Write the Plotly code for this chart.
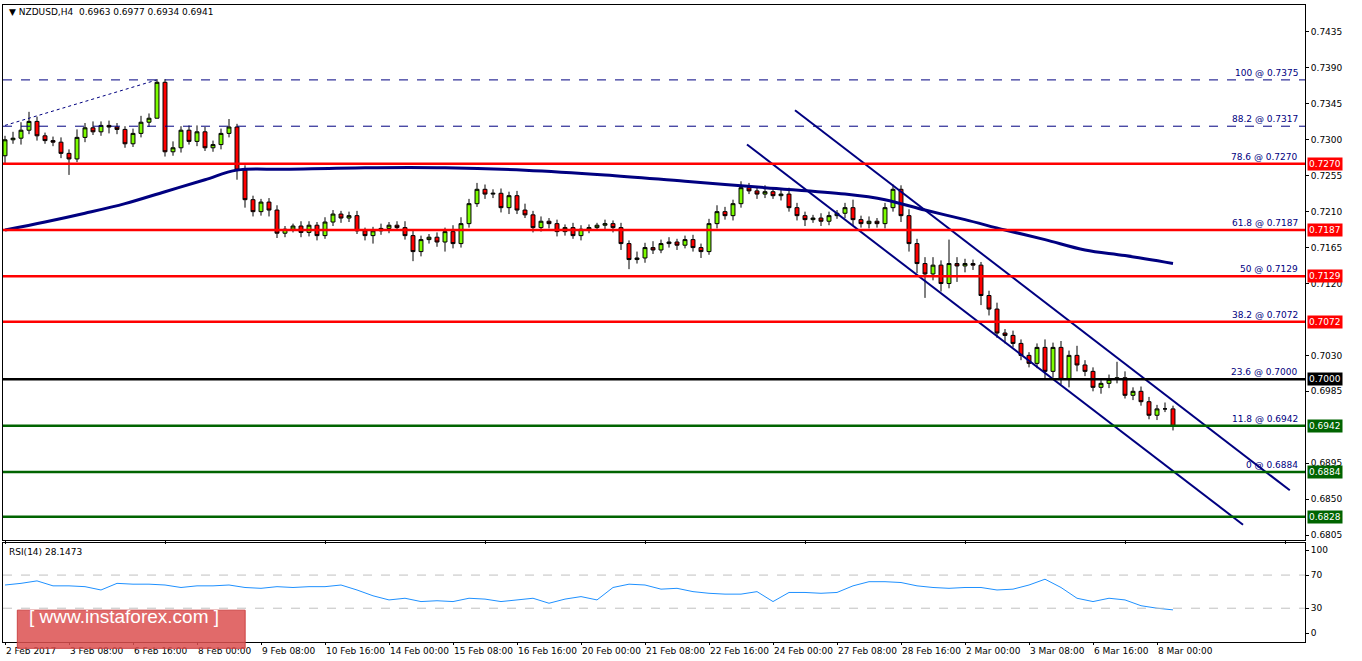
import plotly.graph_objects as go

# NZDUSD H4 candles
first_open = 0.7280
closes = [
    0.7300, 0.7302, 0.7312, 0.7323, 0.7305, 0.7299, 0.7297, 0.7283, 0.7276, 0.7303,
    0.7315, 0.7310, 0.7318, 0.7316, 0.7313, 0.7295, 0.7308, 0.7322, 0.7327,
    0.7372, 0.7285,
    0.7290, 0.7312, 0.7298, 0.7310, 0.7290, 0.7294, 0.7308, 0.7316,
    0.7262, 0.7225,
    0.7210, 0.7222, 0.7212, 0.7183,
    0.7188, 0.7192, 0.7184, 0.7193, 0.7180, 0.7197, 0.7207, 0.7202, 0.7205,
    0.7186, 0.7180, 0.7186, 0.7189, 0.7193, 0.7190, 0.7180, 0.7160,
    0.7175, 0.7178, 0.7172, 0.7185, 0.7170, 0.7195,
    0.7220, 0.7238, 0.7232, 0.7233,
    0.7215, 0.7230, 0.7212, 0.7206, 0.7190, 0.7198, 0.7195,
    0.7185, 0.7190, 0.7180, 0.7188, 0.7190, 0.7193, 0.7195, 0.7190, 0.7170, 0.7150, 0.7152,
    0.7165, 0.7162, 0.7170, 0.7172, 0.7168, 0.7175, 0.7165, 0.7160,
    0.7195, 0.7210, 0.7205, 0.7220, 0.7240,
    0.7236, 0.7232, 0.7235, 0.7230, 0.7232,
    0.7215, 0.7205, 0.7200, 0.7202, 0.7198, 0.7205, 0.7208, 0.7215, 0.7200, 0.7195, 0.7198, 0.7195,
    0.7215, 0.7238,
    0.7205, 0.7170, 0.7145,
    0.7132, 0.7143, 0.7120, 0.7145, 0.7142, 0.7145,
    0.7143, 0.7105, 0.7088, 0.7058, 0.7055, 0.7045, 0.7030,
    0.7020, 0.7040, 0.7010, 0.7040, 0.7000, 0.7030,
    0.7018, 0.7010, 0.6990, 0.6995, 0.7000, 0.7002,
    0.6980, 0.6985, 0.6972, 0.6955, 0.6963, 0.6963, 0.6941,
]
# wick lengths in pips above / below the body
wick_up = [
    5, 8, 10, 12, 6, 4, 5, 6, 5, 10, 6, 8, 5, 6, 5, 4, 6, 8, 6,
    4, 4, 8, 5, 6, 8, 6, 5, 6, 10,
    4, 6, 5, 4, 5, 6, 4, 3, 6, 5, 4, 6, 5, 4, 5,
    6, 4, 5, 6, 4, 5, 8, 6, 5, 4, 6, 5, 8, 8,
    6, 8, 6, 5, 6, 5, 6, 8, 5, 6, 4,
    5, 4, 6, 5, 4, 3, 5, 4, 6, 4, 8,
    6, 8, 5, 6, 4, 5, 6, 5, 6, 8, 6, 5, 8,
    6, 5, 8, 5, 6, 8, 6, 5, 4, 6, 5, 4, 6, 10, 5, 6, 4,
    6, 6, 5, 8, 6, 8, 10, 6, 30, 8, 6, 5,
    4, 6, 8, 5, 6, 5, 4,
    5, 10, 6, 8, 6, 12,
    6, 5, 4, 6, 20, 8,
    5, 6, 6, 5, 8, 4, 14,
]
wick_dn = [
    10, 5, 8, 5, 6, 4, 5, 6, 20, 4, 6, 4, 5, 8, 6, 5, 4, 5, 6,
    0, 6, 5, 6, 4, 6, 4, 5, 6, 5,
    12, 10, 6, 5, 8, 6, 5, 4, 6, 5, 6, 4, 5, 6, 5,
    4, 6, 10, 5, 6, 4, 5, 12, 6, 5, 6, 12, 6, 5,
    5, 4, 6, 5, 6, 8, 5, 4, 6, 5, 6,
    6, 5, 4, 6, 5, 4, 5, 6, 8, 12, 5,
    6, 5, 4, 5, 6, 4, 5, 8, 4, 6, 5, 6, 5,
    4, 6, 5, 4, 6, 5, 6, 8, 4, 6, 5, 4, 6, 8, 5, 6, 5,
    6, 5, 8, 10, 12, 30, 8, 10, 6, 20, 8, 6,
    12, 8, 6, 10, 5, 6, 5,
    6, 10, 8, 6, 10, 8,
    6, 5, 8, 6, 5, 4,
    6, 5, 5, 6, 4, 5, 7,
]

ma_idx = [0, 5, 10, 15, 20, 25, 29, 35, 45, 55, 65, 75, 85, 95, 105, 110, 115, 120, 125, 130, 135, 140, 146]
ma_val = [0.7187, 0.7197, 0.7208, 0.7220, 0.7235, 0.7250, 0.7262, 0.7263, 0.7265, 0.7265, 0.7262, 0.7256,
          0.7248, 0.7240, 0.7232, 0.7225, 0.7212, 0.7200, 0.7187, 0.7175, 0.7162, 0.7155, 0.7145]

chan_up_idx = [98.75, 160.6]
chan_up_val = [0.7337, 0.6861]
chan_dn_idx = [92.75, 154.75]
chan_dn_val = [0.7294, 0.6818]
fibo_idx = [0, 19]
fibo_val = [0.7318, 0.7375]

fibo_levels = ["100 @ 0.7375", "88.2 @ 0.7317", "78.6 @ 0.7270", "61.8 @ 0.7187", "50 @ 0.7129",
               "38.2 @ 0.7072", "23.6 @ 0.7000", "11.8 @ 0.6942", "0 @ 0.6884"]
fibo_prices = [0.7375, 0.7317, 0.7270, 0.7187, 0.7129, 0.7072, 0.7000, 0.6942, 0.6884]

level_prices = [0.7270, 0.7187, 0.7129, 0.7072, 0.7000, 0.6942, 0.6884, 0.6828]
level_colors = ["#ff0000", "#ff0000", "#ff0000", "#ff0000", "#000000", "#006400", "#006400", "#006400"]
level_labels = ["0.7270", "0.7187", "0.7129", "0.7072", "0.7000", "0.6942", "0.6884", "0.6828"]

rsi_idx = list(range(0, 147, 2))
rsi_val = [58, 60, 63, 57, 57, 56, 52, 60, 59, 59, 58, 55, 57, 57, 58, 55, 54, 56, 55, 56, 56, 58,
           52, 45, 40, 42, 38, 39, 38, 42, 41, 38, 40, 42, 36, 41, 44, 40, 55, 59, 58, 53, 54,
           50, 48, 47, 47, 50, 38, 49, 49, 48, 49, 57, 62, 62, 61, 57, 55, 54, 55, 55, 52, 53,
           58, 65, 55, 42, 38, 42, 40, 33, 30, 28]

tick_idx = list(range(0, 147, 8))
tick_text = ["2 Feb 2017", "3 Feb 08:00", "6 Feb 16:00", "8 Feb 00:00", "9 Feb 08:00", "10 Feb 16:00",
             "14 Feb 00:00", "15 Feb 08:00", "16 Feb 16:00", "20 Feb 00:00", "21 Feb 08:00",
             "22 Feb 16:00", "24 Feb 00:00", "27 Feb 08:00", "28 Feb 16:00", "2 Mar 00:00",
             "3 Mar 08:00", "6 Mar 16:00", "8 Mar 00:00"]
price_ticks = [0.7435, 0.7390, 0.7345, 0.7300, 0.7255, 0.7210, 0.7165, 0.7120, 0.7030, 0.6985, 0.6895, 0.6850, 0.6805]

opens = [first_open] + closes[:-1]
highs = [max(o, c) + u / 10000 for o, c, u in zip(opens, closes, wick_up)]
lows = [min(o, c) - d / 10000 for o, c, d in zip(opens, closes, wick_dn)]
idx = list(range(len(closes)))

fig = go.Figure()
fig.add_trace(go.Candlestick(
    x=idx, open=opens, high=highs, low=lows, close=closes, whiskerwidth=0,
    increasing=dict(fillcolor="#7cfc00", line=dict(color="#000000", width=1)),
    decreasing=dict(fillcolor="#ff0000", line=dict(color="#000000", width=1)),
    xaxis="x", yaxis="y", showlegend=False, hoverinfo="skip"))
fig.add_trace(go.Scatter(x=ma_idx, y=ma_val, mode="lines", line=dict(color="#000080", width=3),
                         line_shape="spline", showlegend=False))
fig.add_trace(go.Scatter(x=chan_up_idx, y=chan_up_val, mode="lines", line=dict(color="#000080", width=2), showlegend=False))
fig.add_trace(go.Scatter(x=chan_dn_idx, y=chan_dn_val, mode="lines", line=dict(color="#000080", width=2), showlegend=False))
fig.add_trace(go.Scatter(x=fibo_idx, y=fibo_val, mode="lines", line=dict(color="#000080", width=1, dash="dot"), showlegend=False))
fig.add_trace(go.Scatter(x=rsi_idx, y=rsi_val, mode="lines", line=dict(color="#1e90ff", width=1),
                         xaxis="x2", yaxis="y2", showlegend=False))

for p in fibo_prices[:2]:
    fig.add_shape(type="line", xref="x domain", yref="y", x0=0, x1=1, y0=p, y1=p,
                  line=dict(color="#000080", width=1, dash="dash"))
for p, c in zip(level_prices, level_colors):
    fig.add_shape(type="line", xref="x domain", yref="y", x0=0, x1=1, y0=p, y1=p,
                  line=dict(color=c, width=2.5))
for p in [70, 30]:
    fig.add_shape(type="line", xref="x2 domain", yref="y2", x0=0, x1=1, y0=p, y1=p,
                  line=dict(color="#c0c0c0", width=1, dash="dash"))

for t, p in zip(fibo_levels, fibo_prices):
    fig.add_annotation(x=0.9962, xref="paper", y=p, yref="y", text=t, showarrow=False,
                       xanchor="right", yanchor="bottom", font=dict(size=9, color="#000080"))
for t, p, c in zip(level_labels, level_prices, level_colors):
    fig.add_annotation(x=1.0, xref="paper", y=p, yref="y", text=t, showarrow=False, xanchor="left",
                       bgcolor=c, borderpad=1, font=dict(size=9, color="#ffffff"), xshift=2)

fig.add_annotation(x=0.003, xref="paper", y=1, yref="paper", text="▼ NZDUSD,H4  0.6963 0.6977 0.6934 0.6941",
                   showarrow=False, xanchor="left", yanchor="top", font=dict(size=9, color="#000000"))
fig.add_annotation(x=0.003, xref="paper", y=0.152, yref="paper", text="RSI(14) 28.1473",
                   showarrow=False, xanchor="left", yanchor="top", font=dict(size=9, color="#000000"))

fig.add_shape(type="rect", xref="paper", yref="paper", x0=0.011, x1=0.186, y0=-0.01, y1=0.05,
              fillcolor="rgba(220,80,80,0.85)", line=dict(color="rgba(200,60,60,0.9)", width=1))
fig.add_annotation(x=0.011, xref="paper", y=0.02, yref="paper", text="[ www.instaforex.com ]",
                   showarrow=False, xanchor="left", xshift=10, width=220, align="left",
                   font=dict(size=19, color="#ffffff", family="Arial"))

axis_common = dict(showgrid=False, zeroline=False, showline=True, linecolor="#000000", mirror=True,
                   ticks="outside", tickcolor="#000000")
fig.update_layout(
    width=1362, height=661,
    margin=dict(l=3, r=57, t=5, b=19, autoexpand=False),
    paper_bgcolor="white", plot_bgcolor="white",
    font=dict(family="DejaVu Sans", size=9, color="#000000"),
    xaxis=dict(domain=[0, 1], range=[-0.25, 162.5], showticklabels=False, rangeslider=dict(visible=False),
               ticklen=3, **axis_common),
    yaxis=dict(domain=[0.16, 1], range=[0.67987, 0.74688], side="right", tickvals=price_ticks,
               tickformat=".4f", ticklen=3, **axis_common),
    xaxis2=dict(domain=[0, 1], range=[-0.25, 162.5], anchor="y2", tickvals=tick_idx, ticktext=tick_text,
                ticklen=2, tickangle=0, ticklabelposition="outside right", **axis_common),
    yaxis2=dict(domain=[0, 0.155], range=[-10.8, 108.4], side="right", anchor="x2",
                tickvals=[0, 30, 70, 100], ticklen=3, **axis_common),
    hovermode=False,
)

fig.write_html("out.html", config={"displayModeBar": False},
               post_script="document.body.style.margin='0';")
